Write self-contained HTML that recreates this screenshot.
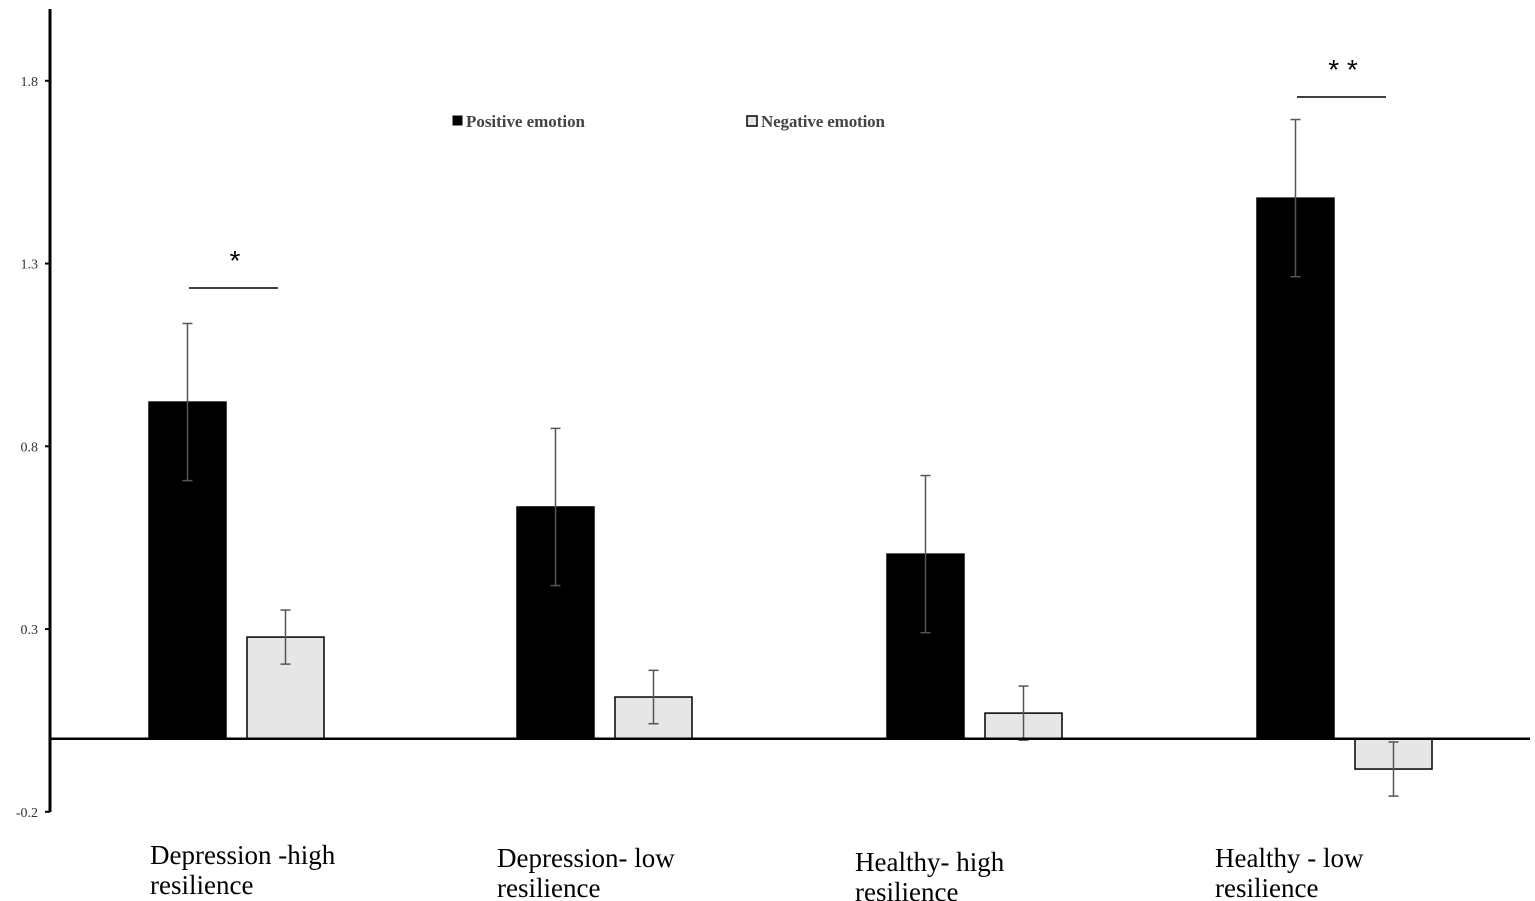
<!DOCTYPE html>
<html><head><meta charset="utf-8"><style>
html,body{margin:0;padding:0;background:#fff;}
svg{display:block;font-family:"Liberation Serif",serif;}
</style></head><body>
<svg id="chart" width="1535" height="901" xmlns="http://www.w3.org/2000/svg"></svg>
<script>
const categories=["Depression -high|resilience","Depression- low|resilience","Healthy- high|resilience","Healthy - low|resilience"];
const positiveValues=[0.921,0.634,0.505,1.479];
const positiveErrors=[0.215,0.215,0.215,0.215];
const negativeValues=[0.278,0.114,0.070,-0.083];
const negativeErrors=[0.074,0.073,0.074,0.074];
const tickValues=[1.8,1.3,0.8,0.3,-0.2];
const tickLabels=["1.8","1.3","0.8","0.3","-0.2"];
const sigLabels=["*","","","* *"];

const NS="http://www.w3.org/2000/svg";
const svg=document.getElementById('chart');
const y=v=>738.7-v*365.5;
const groupX=i=>[149,517,887,1257][i];
const labelX=[150,497,855,1215];
const labelY=[864,867,871,867];
function mk(t,a,p){const e=document.createElementNS(NS,t);for(const k in a)e.setAttribute(k,a[k]);(p||svg).appendChild(e);return e;}

const yaxis=mk('line',{x1:50,y1:9,x2:50,y2:812,stroke:'#000','stroke-width':3});


tickValues.forEach((v,i)=>{
  const t=mk('line',{x1:45,y1:y(v),x2:50,y2:y(v),stroke:'#000','stroke-width':2});
  
  
  const l=mk('text',{x:38,y:y(v)+5,'font-size':14,'text-anchor':'end',fill:'#333'});
  l.textContent=tickLabels[i];
  
  
});
function bar(x,v,e,fill,name){
  const top=Math.min(y(v),y(0)),h=Math.abs(y(v)-y(0));
  const r=mk('rect',{x:x,y:top,width:77,height:h,fill:fill,stroke:'#000','stroke-width':1.5});
  
  
  const cx=x+38.5;
  const g=mk('g',{stroke:'#555','stroke-width':1.5});
  
  
  mk('line',{x1:cx,y1:y(v+e),x2:cx,y2:y(v-e)},g);
  mk('line',{x1:cx-5,y1:y(v+e),x2:cx+5,y2:y(v+e)},g);
  mk('line',{x1:cx-5,y1:y(v-e),x2:cx+5,y2:y(v-e)},g);
}
categories.forEach((c,i)=>{
  const gx=groupX(i);
  bar(gx,positiveValues[i],positiveErrors[i],'#000','bar-positive-'+(i+1));
  bar(gx+98,negativeValues[i],negativeErrors[i],'#e6e6e6','bar-negative-'+(i+1));
  const parts=c.split('|');
  const lx=labelX[i];
  const lab=mk('text',{x:lx,y:labelY[i],'font-size':27,fill:'#000'});
  
  
  parts.forEach((p,j)=>{const ts=mk('tspan',{x:lx,dy:j?30:0},lab);ts.textContent=p;});
  if(sigLabels[i]){
    const ly=i===3?97:288;
    const sl=mk('line',{x1:gx+40,y1:ly,x2:gx+129,y2:ly,stroke:'#000','stroke-width':1.5});
    
    
    const st=mk('text',{x:gx+86,y:ly-18,'font-size':28,'text-anchor':'middle',fill:'#000','font-family':'Liberation Sans, sans-serif'});
    st.textContent=sigLabels[i];
    
    
  }
});
const base=mk('line',{x1:50,y1:y(0),x2:1530,y2:y(0),stroke:'#000','stroke-width':2.5});



const lg=mk('g',{});


mk('rect',{x:453,y:116,width:9,height:9,fill:'#000',stroke:'#000'},lg);
const t1=mk('text',{x:466,y:127,'font-size':17,'font-weight':'bold',fill:'#444',textLength:119},lg);t1.textContent='Positive emotion';


mk('rect',{x:747,y:116,width:10,height:10,fill:'#e6e6e6',stroke:'#000','stroke-width':1.5},lg);
const t2=mk('text',{x:761,y:127,'font-size':17,'font-weight':'bold',fill:'#444',textLength:124},lg);t2.textContent='Negative emotion';


</script>
</body></html>
